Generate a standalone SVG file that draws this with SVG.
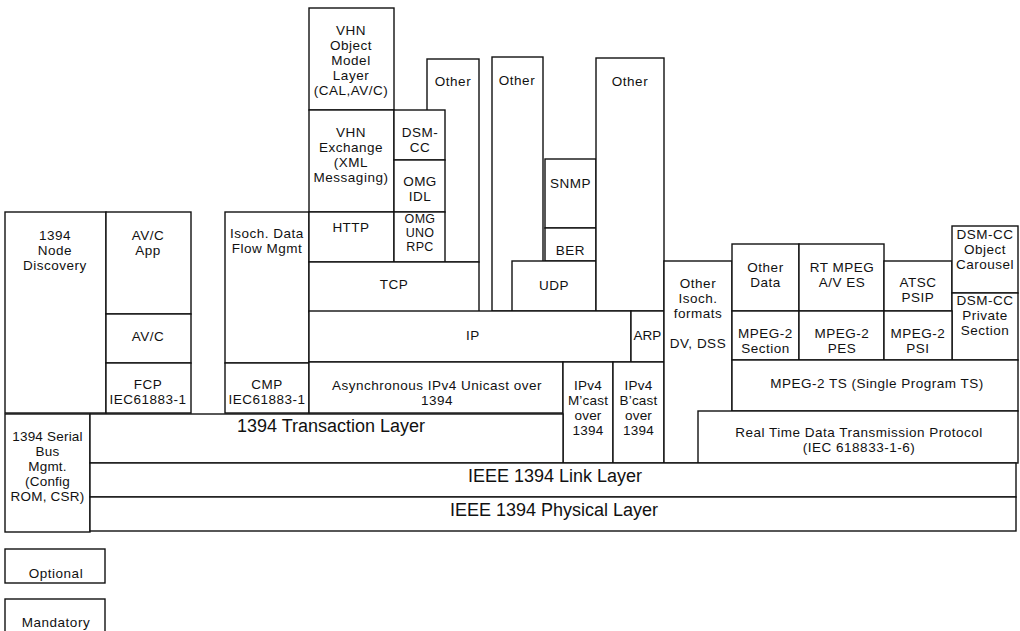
<svg xmlns="http://www.w3.org/2000/svg" width="1020" height="631" viewBox="0 0 1020 631">
<style>
rect{fill:#fff;stroke:#111;stroke-width:1.4}
text{font-family:"Liberation Sans",Arial,sans-serif;font-size:13.5px;letter-spacing:0.5px;fill:#111;text-anchor:middle}
.big{font-size:18px;letter-spacing:0}
.sm{font-size:12.5px;letter-spacing:0.3px}
</style>
<rect x="0" y="0" width="1020" height="631" style="stroke:none"/>
<g id="nodeDisc"><rect x="5" y="212" width="101" height="201"/><text><tspan x="55" y="240">1394</tspan><tspan x="55" y="255">Node</tspan><tspan x="55" y="270">Discovery</tspan></text></g>
<g id="avcApp"><rect x="106" y="212" width="85" height="102"/><text><tspan x="148" y="240">AV/C</tspan><tspan x="148" y="255">App</tspan></text></g>
<g id="avc"><rect x="106" y="314" width="85" height="49"/><text x="148" y="341">AV/C</text></g>
<g id="fcp"><rect x="106" y="363" width="85" height="50"/><text><tspan x="148" y="389">FCP</tspan><tspan x="148" y="404">IEC61883-1</tspan></text></g>
<g id="isoch"><rect x="225" y="212" width="84" height="151"/><text><tspan x="267" y="238">Isoch. Data</tspan><tspan x="267" y="253">Flow Mgmt</tspan></text></g>
<g id="cmp"><rect x="225" y="363" width="84" height="50"/><text><tspan x="267" y="389">CMP</tspan><tspan x="267" y="404">IEC61883-1</tspan></text></g>
<g id="vhnObj"><rect x="309" y="8" width="85" height="102"/><text><tspan x="351" y="35">VHN</tspan><tspan x="351" y="50">Object</tspan><tspan x="351" y="65">Model</tspan><tspan x="351" y="80">Layer</tspan><tspan x="351" y="95">(CAL,AV/C)</tspan></text></g>
<g id="otherA"><rect x="427" y="59" width="52" height="203"/><text x="453" y="86">Other</text></g>
<g id="vhnEx"><rect x="309" y="110" width="85" height="102"/><text><tspan x="351" y="137">VHN</tspan><tspan x="351" y="152">Exchange</tspan><tspan x="351" y="167">(XML</tspan><tspan x="351" y="182">Messaging)</tspan></text></g>
<g id="dsmcc"><rect x="394" y="110" width="51" height="50"/><text><tspan x="420" y="137">DSM-</tspan><tspan x="420" y="152">CC</tspan></text></g>
<g id="omgIdl"><rect x="394" y="160" width="51" height="52"/><text><tspan x="420" y="186">OMG</tspan><tspan x="420" y="201">IDL</tspan></text></g>
<g id="http"><rect x="309" y="212" width="85" height="50"/><text x="351" y="231.5">HTTP</text></g>
<g id="omgUno"><rect x="394" y="212" width="51" height="50"/><text class="sm"><tspan x="420" y="223">OMG</tspan><tspan x="420" y="237">UNO</tspan><tspan x="420" y="251">RPC</tspan></text></g>
<g id="tcp"><rect x="309" y="262" width="170" height="50"/><text x="394" y="288.5">TCP</text></g>
<g id="otherB"><rect x="492" y="57" width="51" height="254"/><text x="517" y="85">Other</text></g>
<g id="snmp"><rect x="545" y="159" width="51" height="69"/><text x="570.5" y="187.5">SNMP</text></g>
<g id="ber"><rect x="545" y="228" width="51" height="33"/><text x="570.5" y="254.5">BER</text></g>
<g id="udp"><rect x="512" y="261" width="84" height="50"/><text x="554" y="289.5">UDP</text></g>
<g id="otherC"><rect x="596" y="58" width="68" height="253"/><text x="630" y="85.5">Other</text></g>
<g id="ip"><rect x="309" y="311" width="322" height="51"/><text x="473" y="339.5">IP</text></g>
<g id="arp"><rect x="631" y="311" width="33" height="51"/><text x="647.5" y="339.5" style="letter-spacing:0">ARP</text></g>
<g id="async"><rect x="309" y="362" width="254" height="51"/><text><tspan x="437" y="389.5">Asynchronous IPv4 Unicast over</tspan><tspan x="437" y="404.5">1394</tspan></text></g>
<g id="mcast"><rect x="563" y="362" width="50" height="101"/><text style="letter-spacing:0.2px"><tspan x="588" y="389.5">IPv4</tspan><tspan x="588" y="404.5">M’cast</tspan><tspan x="588" y="419.5">over</tspan><tspan x="588" y="434.5">1394</tspan></text></g>
<g id="bcast"><rect x="613" y="362" width="51" height="101"/><text style="letter-spacing:0.2px"><tspan x="638.5" y="389.5">IPv4</tspan><tspan x="638.5" y="404.5">B’cast</tspan><tspan x="638.5" y="419.5">over</tspan><tspan x="638.5" y="434.5">1394</tspan></text></g>
<g id="otherIsoch"><rect x="664" y="261" width="68" height="202"/><text><tspan x="698" y="288">Other</tspan><tspan x="698" y="303">Isoch.</tspan><tspan x="698" y="318">formats</tspan><tspan x="698" y="348">DV, DSS</tspan></text></g>
<g id="otherData"><rect x="732" y="244" width="67" height="67"/><text><tspan x="765.5" y="271.5">Other</tspan><tspan x="765.5" y="286.5">Data</tspan></text></g>
<g id="rtmpeg"><rect x="799" y="244" width="85" height="67"/><text><tspan x="842" y="271.5">RT MPEG</tspan><tspan x="842" y="286.5">A/V ES</tspan></text></g>
<g id="atsc"><rect x="884" y="261" width="68" height="50"/><text><tspan x="918" y="286.5">ATSC</tspan><tspan x="918" y="301.5">PSIP</tspan></text></g>
<g id="dsmObj"><rect x="952" y="226" width="66" height="67"/><text><tspan x="985" y="238.5">DSM-CC</tspan><tspan x="985" y="253.5">Object</tspan><tspan x="985" y="268.5">Carousel</tspan></text></g>
<g id="dsmPriv"><rect x="952" y="293" width="66" height="67"/><text><tspan x="985" y="305">DSM-CC</tspan><tspan x="985" y="320">Private</tspan><tspan x="985" y="335">Section</tspan></text></g>
<g id="mpegSec"><rect x="732" y="311" width="67" height="49"/><text><tspan x="765.5" y="337.5">MPEG-2</tspan><tspan x="765.5" y="352.5">Section</tspan></text></g>
<g id="mpegPes"><rect x="799" y="311" width="85" height="49"/><text><tspan x="842" y="337.5">MPEG-2</tspan><tspan x="842" y="352.5">PES</tspan></text></g>
<g id="mpegPsi"><rect x="884" y="311" width="68" height="49"/><text><tspan x="918" y="337.5">MPEG-2</tspan><tspan x="918" y="352.5">PSI</tspan></text></g>
<g id="mpegTs"><rect x="732" y="360" width="286" height="51"/><text x="877" y="387.5">MPEG-2 TS (Single Program TS)</text></g>
<g id="rtdtp"><rect x="698" y="411" width="320" height="52"/><text><tspan x="859" y="437">Real Time Data Transmission Protocol</tspan><tspan x="859" y="452">(IEC 618833-1-6)</tspan></text></g>
<g id="serial"><rect x="5" y="414" width="85" height="118"/><text style="letter-spacing:0.2px"><tspan x="47.5" y="441">1394 Serial</tspan><tspan x="47.5" y="456">Bus</tspan><tspan x="47.5" y="471">Mgmt.</tspan><tspan x="47.5" y="486">(Config</tspan><tspan x="47.5" y="501">ROM, CSR)</tspan></text></g>
<g id="trans"><rect x="90" y="414" width="473" height="49"/><text class="big" x="331" y="431.5">1394 Transaction Layer</text></g>
<g id="link"><rect x="90" y="463" width="926" height="34"/><text class="big" x="555" y="481.5">IEEE 1394 Link Layer</text></g>
<g id="phys"><rect x="90" y="497" width="926" height="34"/><text class="big" x="554" y="515.5">IEEE 1394 Physical Layer</text></g>
<g id="legendOptional"><rect x="5" y="549" width="100" height="34"/><text x="56" y="577.5">Optional</text></g>
<g id="legendMandatory"><rect x="5" y="599" width="100" height="40"/><text x="56" y="626.5">Mandatory</text></g>
<g id="connectors"/>
</svg>
